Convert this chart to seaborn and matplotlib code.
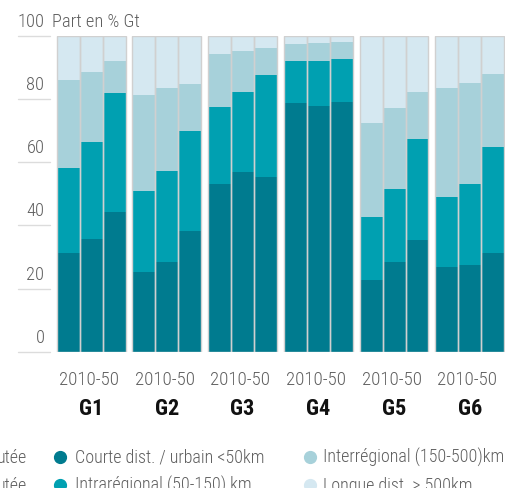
import matplotlib
matplotlib.use("Agg")
import matplotlib.pyplot as plt
from matplotlib.lines import Line2D
from matplotlib import font_manager
import matplotlib.transforms as mtransforms
import numpy as np
import pandas as pd
import seaborn as sns

# ---------------- data ----------------
groups = ["G1", "G2", "G3", "G4", "G5", "G6"]
periods = ["2010", "2030", "2050"]
period_label = "2010-50"

courte = [31.3, 35.7, 44.2, 25.3, 28.4, 38.2, 53.1, 56.9, 55.3,
          78.7, 77.7, 79.0, 22.7, 28.4, 35.4, 26.9, 27.5, 31.3]
intra = [26.8, 30.7, 37.6, 25.6, 28.8, 31.6, 24.3, 25.2, 32.2,
         13.2, 14.2, 13.6, 20.0, 23.1, 31.9, 22.1, 25.6, 33.5]
inter = [27.8, 22.1, 10.1, 30.3, 26.2, 14.9, 16.8, 13.0, 8.5,
         5.4, 5.7, 5.3, 29.7, 25.6, 14.8, 34.4, 31.9, 23.0]
longue = [14.1, 11.5, 8.1, 18.8, 16.6, 15.3, 5.8, 4.9, 4.0,
          2.7, 2.4, 2.1, 27.6, 22.9, 17.9, 16.6, 15.0, 12.2]

series_names = ["Courte dist. / urbain <50km", "Intrarégional (50-150) km",
                "Interrégional (150-500)km", "Longue dist. > 500km"]
colors = ["#007b8f", "#00a0b1", "#a7d1da", "#d5e8f1"]
yticks = [0, 20, 40, 60, 80, 100]
y_title = "Part en % Gt"
left_cut = "utée"

# ---------------- frame ----------------
rows = []
for gi, g in enumerate(groups):
    for pi, p in enumerate(periods):
        k = gi * 3 + pi
        rows.append({"group": g, "period": p,
                     "courte": courte[k], "intra": intra[k],
                     "inter": inter[k], "longue": longue[k]})
df = pd.DataFrame(rows)
df["c1"] = df["courte"]
df["c2"] = df["c1"] + df["intra"]
df["c3"] = df["c2"] + df["inter"]
df["c4"] = df["c3"] + df["longue"]

sns.set_theme(style="white")

# choose a condensed font if one is installed
fl = font_manager.fontManager.ttflist
names = {f.name for f in fl}
family, stretch, shrink = None, "normal", 1.0
for cand in ["Liberation Sans Narrow", "Roboto Condensed", "Open Sans Condensed",
             "DejaVu Sans Condensed", "Noto Sans Condensed", "Arial Narrow"]:
    if cand in names:
        family = cand
        break
if family is None:
    for base in ["Roboto", "Noto Sans", "Open Sans", "DejaVu Sans"]:
        if any(f.name == base and str(f.stretch) in ("condensed", "semi-condensed", "extra-condensed", "75", "87.5")
               for f in fl):
            family, stretch = base, "condensed"
            break
if family is None:
    family, shrink = "Roboto", 0.86
plt.rcParams["font.family"] = [family, "DejaVu Sans"]
plt.rcParams["font.stretch"] = stretch

W, H = 510, 488
fig = plt.figure(figsize=(W / 100, H / 100), dpi=100)
ax_left, ax_right = 55.6, 505.3
ax_top, ax_bot = 35.7, 352.0
ax = fig.add_axes([ax_left / W, 1 - ax_bot / H,
                   (ax_right - ax_left) / W, (ax_bot - ax_top) / H])

bw = 0.911
for col, c in zip(["c4", "c3", "c2", "c1"], colors[::-1]):
    sns.barplot(data=df, x="group", y=col, hue="period", order=groups,
                hue_order=periods, palette=[c] * 3, width=bw, dodge=True,
                linewidth=0, saturation=1, legend=False, ax=ax, errorbar=None)
# separators / outline
sns.barplot(data=df, x="group", y="c4", hue="period", order=groups,
            hue_order=periods, palette=["#ffffff"] * 3, width=bw, dodge=True,
            fill=False, linewidth=1.0, edgecolor="#d0d0d0", legend=False,
            ax=ax, errorbar=None)
for p in ax.patches[-18:]:
    p.set_facecolor("none")
    p.set_edgecolor("#d0d0d0")

ax.set_xlim(-0.47, 5.47)
ax.set_ylim(0, 100)
for s in ax.spines.values():
    s.set_visible(False)
ax.set_xticks([])
ax.set_yticks([])
ax.set_xlabel("")
ax.set_ylabel("")
ax.grid(False)

def fx(px):
    return px / W

def fy(py):
    return 1 - py / H

txt_col = "#5f5f5f"
lw_txt = "light"
fs_tick, fs_lab, fs_leg, fs_g = 13.3 * shrink, 13.6 * shrink, 13 * shrink, 16 * shrink
scale = (ax_bot - ax_top) / 100
for v in yticks:
    py = ax_bot - v * scale
    fig.add_artist(Line2D([fx(18), fx(50)], [fy(py), fy(py)],
                          color="#dcdcdc", lw=1.0, transform=fig.transFigure))
    fig.text(fx(44.5), fy(py - 9), str(v), ha="right", va="baseline",
             fontsize=fs_tick, color=txt_col, fontweight=lw_txt)
fig.text(fx(52.5), fy(ax_top - 9), y_title, ha="left", va="baseline",
         fontsize=fs_tick, color=txt_col, fontweight=lw_txt)

trans = mtransforms.blended_transform_factory(ax.transData, fig.transFigure)
for i, g in enumerate(groups):
    ax.text(i - 0.03, fy(385), period_label, ha="center", va="baseline",
            fontsize=fs_lab, color=txt_col, fontweight=lw_txt, transform=trans)
    ax.text(i, fy(415), g, ha="center", va="baseline", fontsize=fs_g,
            fontweight="bold", color="#111111", transform=trans)

# legend
leg_rows = [463, 491]
mk_y = [457, 485]
cols_x = [(60, 75), (310, 323)]
for j, name in enumerate(series_names):
    ci, ri = j // 2, j % 2
    mx, tx = cols_x[ci]
    fig.add_artist(Line2D([fx(mx)], [fy(mk_y[ri])], marker="o", ms=8.5,
                          color=colors[j], lw=0, transform=fig.transFigure))
    fig.text(fx(tx), fy(leg_rows[ri]), name, ha="left", va="baseline",
             fontsize=fs_leg, color=txt_col, fontweight=lw_txt)
for ri in range(2):
    fig.text(fx(27.5), fy(leg_rows[ri]), left_cut, ha="right", va="baseline",
             fontsize=fs_leg, color=txt_col, fontweight=lw_txt)

fig.savefig("out.png", dpi=100)
